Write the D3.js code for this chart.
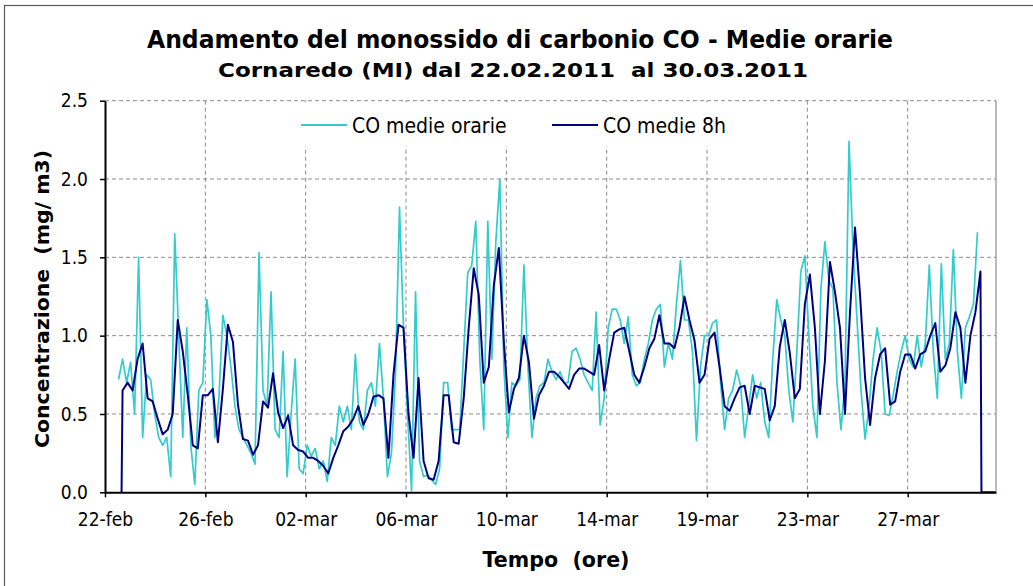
<!DOCTYPE html>
<html><head><meta charset="utf-8">
<script src="https://cdn.jsdelivr.net/npm/d3@7"></script>
<style>
body{margin:0;background:#fff}
svg{display:block}
text{white-space:pre}
</style>
</head><body>
<svg id="c" width="1033" height="586"></svg>
<script>
// ---------- data ----------
const tickLabels = ["22-feb","26-feb","02-mar","06-mar","10-mar","14-mar","19-mar","23-mar","27-mar"];
const tickEveryHours = 100;
const totalHours = 888;
const yTicks = [0, 0.5, 1.0, 1.5, 2.0, 2.5];

// CO medie orarie (sampled every 4 h, first sample at hour 13)
const coOrarieStart = 13, coOrarieStep = 4;
const coOrarie = [
0.72,0.85,0.7,0.83,0.5,1.5,0.35,0.75,0.72,0.5,
0.35,0.3,0.35,0.1,1.65,1.0,0.35,1.05,0.3,0.05,
0.65,0.7,1.23,1.0,0.35,0.6,1.13,1.0,0.8,0.55,
0.4,0.35,0.3,0.25,0.18,1.53,
0.65,0.55,1.28,0.4,0.35,0.9,0.1,0.5,0.85,0.15,
0.12,0.3,0.23,0.28,0.15,0.2,0.07,0.35,0.3,0.55,
0.45,0.55,0.4,0.88,0.45,0.4,0.65,0.7,0.55,0.95,
0.6,0.1,0.25,0.75,1.82,1.05,0.5,
0.01,1.28,0.2,0.1,0.11,0.08,0.05,0.15,0.7,0.7,
0.4,0.4,0.4,0.9,1.4,1.45,1.73,0.85,0.4,1.73,
0.85,1.6,2.0,0.8,0.35,0.7,0.68,0.72,1.45,0.8,
0.35,0.6,0.68,0.7,0.85,0.77,0.72,0.77,
0.7,0.7,0.9,0.92,0.85,0.75,0.7,0.65,1.15,0.43,
0.6,1.05,1.17,1.17,1.1,0.95,1.12,0.75,0.68,0.7,
0.85,0.95,1.1,1.17,1.2,0.8,0.95,0.85,1.2,1.48,
1.1,1.1,0.9,0.33,0.8,1.0,1.0,
1.08,1.1,0.7,0.4,0.6,0.65,0.78,0.68,0.35,0.55,
0.75,0.6,0.7,0.45,0.35,0.85,1.23,1.1,1.0,0.65,
0.45,0.9,1.41,1.51,1.0,0.55,0.35,1.3,1.6,1.35,
1.3,0.7,0.4,0.7,2.24,1.55,1.1,0.65,
0.34,0.55,0.85,1.05,0.9,0.5,0.49,0.62,0.77,0.9,
1.0,0.85,0.8,1.0,0.8,0.95,1.45,0.9,0.6,1.46,
0.85,0.95,1.55,0.9,0.6,1.05,1.12,1.2,1.66
];

// CO medie 8h (sampled every 5 h, first sample at hour 17)
const co8hStart = 17, co8hStep = 5;
const co8h = [
0.65,0.7,0.65,0.85,0.95,0.6,0.58,0.47,0.37,0.4,
0.5,1.1,0.9,0.62,0.3,0.28,0.62,0.62,0.66,0.32,
0.66,1.07,0.96,0.56,0.34,0.33,0.24,0.3,
0.58,0.54,0.76,0.51,0.41,0.49,0.3,0.27,0.26,0.22,
0.22,0.2,0.17,0.12,0.22,0.3,0.39,0.42,0.47,0.55,
0.43,0.5,0.61,0.62,0.6,0.22,0.75,1.07,1.05,0.5,
0.22,0.73,0.2,0.09,0.08,0.2,0.62,0.62,0.32,0.31,
0.6,1.05,1.43,1.26,0.7,0.8,1.32,1.56,0.96,0.51,
0.66,0.73,1.0,0.83,0.47,0.62,0.68,0.77,0.77,0.74,
0.7,0.66,0.75,0.79,0.79,0.77,0.75,0.94,0.65,0.85,
1.02,1.04,1.05,0.9,0.75,0.7,0.8,0.92,0.98,1.13,
0.95,0.95,0.92,1.05,1.25,1.1,0.97,0.7,0.75,0.98,
1.02,0.8,0.55,0.52,0.6,0.67,0.68,0.5,0.68,0.67,
0.66,0.46,0.55,0.93,1.1,0.89,0.6,0.66,1.2,1.39,
1.05,0.5,0.84,1.47,1.28,1.05,0.5,1.15,1.69,1.26,
0.73,0.43,0.73,0.88,0.92,0.56,0.58,0.77,0.88,0.88,
0.79,0.88,0.9,1.0,1.08,0.77,0.81,0.92,1.15,1.05,
0.7,1.0,1.15,1.41
];
const co8hLead = [0];      // hour before the first 8h value
const co8hTail = [0, 0];   // after the last 8h value up to the end of the period

// ---------- chart ----------
const svg = d3.select("#c");
const FONT = "'DejaVu Sans Condensed','DejaVu Sans',sans-serif";
const BFONT = "'DejaVu Sans','Verdana',sans-serif";

// outer frame
svg.append("rect").attr("x",4.5).attr("y",5.5).attr("width",1040).attr("height",600)
  .attr("fill","#fff").attr("stroke","#5a5a5a").attr("stroke-width",1.2);

const L = 105, R = 996, T = 100.7, B = 492.3;
const x = d3.scaleLinear().domain([0, totalHours]).range([L, R]);
const y = d3.scaleLinear().domain([0, 2.5]).range([B, T]);
const xh = h => x(h + 0.5);

// titles
svg.append("text").attr("x",520).attr("y",48).attr("text-anchor","middle")
  .attr("font-family",BFONT).attr("font-weight","bold").attr("font-size",24)
  .attr("textLength",746).attr("lengthAdjust","spacingAndGlyphs")
  .text("Andamento del monossido di carbonio CO - Medie orarie");
svg.append("text").attr("x",513).attr("y",77).attr("text-anchor","middle")
  .attr("font-family",BFONT).attr("font-weight","bold").attr("font-size",19)
  .attr("textLength",590).attr("lengthAdjust","spacingAndGlyphs")
  .text("Cornaredo (MI) dal 22.02.2011  al 30.03.2011");

// gridlines
const grid = svg.append("g").attr("stroke","#8c8c8c").attr("stroke-width",1).attr("stroke-dasharray","4,3");
grid.selectAll("line.h").data(yTicks.filter(d => d > 0)).join("line")
  .attr("x1",L).attr("x2",R).attr("y1",d => y(d)).attr("y2",d => y(d));
const tickHours = tickLabels.map((_, i) => i * tickEveryHours);
grid.selectAll("line.v").data(tickHours.filter(h => h > 0)).join("line")
  .attr("x1",d => x(d)).attr("x2",d => x(d)).attr("y1",T).attr("y2",B);
// right border of plot
svg.append("line").attr("x1",R).attr("x2",R).attr("y1",T).attr("y2",B)
  .attr("stroke","#8c8c8c").attr("stroke-width",1.2);

// legend background (covers gridlines)
svg.append("rect").attr("x",291).attr("y",T+1.5).attr("width",451).attr("height",44).attr("fill","#fff");

// series
const pts1 = coOrarie.map((v, i) => ({h: coOrarieStart + i * coOrarieStep, v}));
const firstH = co8hStart, lastH = co8hStart + (co8h.length - 1) * co8hStep;
const pts2 = [
  ...co8hLead.map(v => ({h: firstH - 1, v})),
  ...co8h.map((v, i) => ({h: co8hStart + i * co8hStep, v})),
  ...co8hTail.map((v, i) => ({h: i === 0 ? lastH + 1 : totalHours - 1, v}))
];
const line = d3.line().x(d => xh(d.h)).y(d => y(d.v));
svg.append("path").datum(pts1).attr("d",line).attr("fill","none")
  .attr("stroke","#33CCCC").attr("stroke-width",1.7).attr("stroke-linejoin","round");
svg.append("path").datum(pts2).attr("d",line).attr("fill","none")
  .attr("stroke","#000080").attr("stroke-width",2).attr("stroke-linejoin","round");

// axes
const yAxis = d3.axisLeft(y).tickValues(yTicks).tickFormat(d3.format(".1f"))
  .tickSizeInner(5).tickSizeOuter(0).tickPadding(12);
const gy = svg.append("g").attr("transform",`translate(${L},0)`).call(yAxis);
gy.select(".domain").attr("stroke","#000").attr("stroke-width",2);
gy.selectAll(".tick line").attr("stroke","#000").attr("stroke-width",1.5);
gy.selectAll(".tick text").attr("font-family",FONT).attr("font-stretch","condensed")
  .attr("font-size",19).attr("fill","#000");

const xAxis = d3.axisBottom(x).tickValues(tickHours).tickFormat((d, i) => tickLabels[i])
  .tickSizeInner(5).tickSizeOuter(0);
const gx = svg.append("g").attr("transform",`translate(0,${B})`).call(xAxis);
gx.select(".domain").attr("stroke","#000").attr("stroke-width",2);
gx.selectAll(".tick line").attr("stroke","#000").attr("stroke-width",1.5);
gx.selectAll(".tick text").attr("font-family",FONT).attr("font-stretch","condensed")
  .attr("font-size",19).attr("fill","#000").attr("y",34).attr("dy",0);

// axis titles
svg.append("text").attr("transform","translate(49,299) rotate(-90)").attr("text-anchor","middle")
  .attr("font-family",BFONT).attr("font-weight","bold").attr("font-size",20)
  .attr("textLength",298).attr("lengthAdjust","spacingAndGlyphs")
  .text("Concentrazione  (mg/ m3)");
svg.append("text").attr("x",556).attr("y",567).attr("text-anchor","middle")
  .attr("font-family",BFONT).attr("font-weight","bold").attr("font-size",21)
  .attr("textLength",147).attr("lengthAdjust","spacingAndGlyphs")
  .text("Tempo  (ore)");

// legend
const legend = [
  {name: "CO medie orarie", color: "#33CCCC", x0: 301},
  {name: "CO medie 8h", color: "#000080", x0: 552}
];
const lg = svg.append("g");
legend.forEach(d => {
  lg.append("line").attr("x1",d.x0).attr("x2",d.x0 + 46).attr("y1",125).attr("y2",125)
    .attr("stroke",d.color).attr("stroke-width",2);
  lg.append("text").attr("x",d.x0 + 51).attr("y",133).attr("font-family",FONT)
    .attr("font-stretch","condensed").attr("font-size",21).attr("fill","#000").text(d.name);
});
</script>
</body></html>
